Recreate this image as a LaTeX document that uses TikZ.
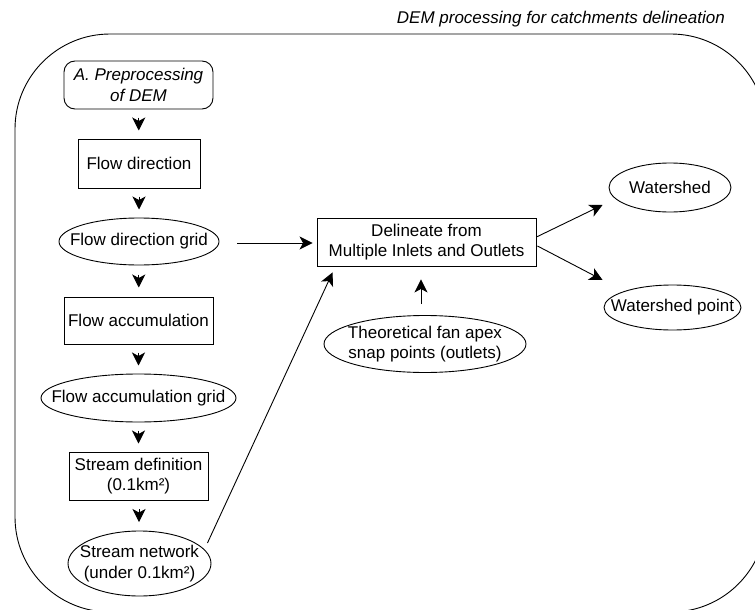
\documentclass[tikz,border=0pt]{standalone}
\usepackage{fontspec}
\setmainfont{Liberation Sans}
\usetikzlibrary{shapes.geometric,arrows.meta,calc}
\newcommand\vdarr[2]{\draw[arr] ($(#1.south)!0.5!(#2.north)+(0,-6.5)$) -- ($(#1.south)!0.5!(#2.north)+(0,6.5)$);}
\begin{document}
\begin{tikzpicture}[x=1pt,y=-1pt,
  font=\fontsize{17}{20.5}\selectfont,
  lw/.style={line width=0.9pt},
  rbox/.style={draw, lw, rectangle, inner sep=0pt, align=center},
  ell/.style={draw, lw, ellipse, inner sep=0pt},
  txt/.style={align=center, inner sep=0pt},
  arr/.style={lw, -{Stealth[length=13pt,width=13pt,inset=3.5pt]}},
]
\useasboundingbox (0,0) rectangle (755,610);
\begin{scope}
\clip (0,0) rectangle (755,610);
% container (its right and bottom edges lie outside the picture)
\draw[lw, rounded corners=95pt] (766,140) -- (766,34) -- (15,34) -- (15,612) -- (766,612) -- (766,500);
\end{scope}
\node[anchor=base east, inner sep=0pt, font=\fontsize{17}{20.5}\selectfont\itshape] (title) at (725,23.5) {DEM processing for catchments delineation};

% left column
\node[rbox, rounded corners=11pt, minimum width=149, minimum height=48, font=\fontsize{17}{20.5}\selectfont\itshape] (pre) at (138.5,85) {A. Preprocessing\\of DEM};
\node[rbox, minimum width=122, minimum height=49] (fd) at (139,163.5) {Flow direction};
\node[ell, minimum width=160, minimum height=47, label={[txt]center:Flow direction grid}] (fdg) at (139,241.5) {};
\node[rbox, minimum width=149, minimum height=47] (fa) at (138.5,320.5) {Flow accumulation};
\node[ell, minimum width=195, minimum height=48, label={[txt]center:Flow accumulation grid}] (fag) at (138.5,398) {};
\node[rbox, minimum width=139, minimum height=48] (sd) at (138.5,476) {Stream definition\\(0.1km²)};
\node[ell, minimum width=143, minimum height=65, label={[txt]center:{Stream network\\(under 0.1km²)}}] (sn) at (139.5,563.5) {};

% middle / right
\node[rbox, minimum width=219, minimum height=48] (del) at (426.5,242) {Delineate from\\Multiple Inlets and Outlets};
\node[ell, minimum width=202, minimum height=57, label={[txt]center:{Theoretical fan apex\\snap points (outlets)}}] (th) at (425,344) {};
\node[ell, minimum width=122, minimum height=49, label={[txt]center:Watershed}] (ws) at (670,187.5) {};
\node[ell, minimum width=137, minimum height=45, label={[txt]center:Watershed point}] (wsp) at (672.5,307.5) {};

% vertical chain arrows
\vdarr{pre}{fd}
\vdarr{fd}{fdg}
\vdarr{fdg}{fa}
\vdarr{fa}{fag}
\vdarr{fag}{sd}
\vdarr{sd}{sn}

% other connectors
\draw[arr] ($(fdg.east)+(18,1.5)$) -- ($(del.west)+(-4,1)$);
\draw[arr] ($(sn.east)+(-4,-20.5)$) -- ($(del.south west)+(16,6)$);
\draw[arr] ($(th.north)+(-4,-11)$) -- ($(del.south)+(-5.5,13)$);
\draw[arr] ($(del.east)+(0,-5)$) -- ($(ws.west)+(-6,17.5)$);
\draw[arr] ($(del.east)+(1,4)$) -- ($(wsp.west)+(-1,-27.5)$);
\end{tikzpicture}
\end{document}
